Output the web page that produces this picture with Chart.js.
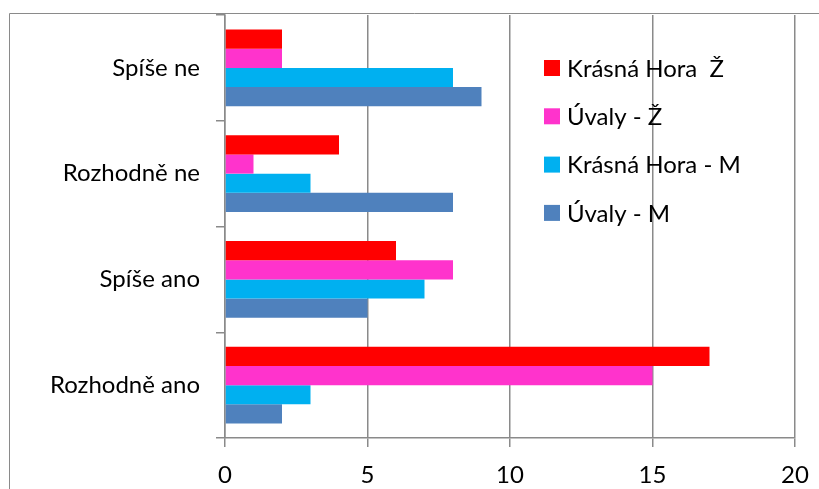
<!DOCTYPE html>
<html><head><meta charset="utf-8">
<script src="https://cdn.jsdelivr.net/npm/chart.js@4/dist/chart.umd.min.js"></script>
<style>html,body{margin:0;padding:0;background:#fff}#wrap{width:819px;height:489px;position:relative}</style>
</head><body><div id="wrap"><canvas id="c" width="819" height="489"></canvas></div>
<script>
const categories = ['Spíše ne', 'Rozhodně ne', 'Spíše ano', 'Rozhodně ano'];
const seriesNames = ['Krásná Hora  Ž', 'Úvaly - Ž', 'Krásná Hora - M', 'Úvaly - M'];
const krasnaHoraZ = [2, 4, 6, 17];
const uvalyZ = [2, 1, 8, 15];
const krasnaHoraM = [8, 3, 7, 3];
const uvalyM = [9, 8, 5, 2];
const xTicks = [0, 5, 10, 15, 20];
const seriesColors = ['#FF0000', '#FF33CC', '#00B0F0', '#4F81BD'];

const seriesValues = [krasnaHoraZ, uvalyZ, krasnaHoraM, uvalyM];
const GRID = '#8a8a8a';
const FONT = 'Lato';

Chart.defaults.font.family = FONT;
Chart.defaults.font.size = 24;
Chart.defaults.color = '#000';

const framePlugin = {
  id: 'frame',
  beforeDraw(chart) {
    const ctx = chart.ctx;
    ctx.save();
    ctx.fillStyle = '#fff';
    ctx.fillRect(0, 0, chart.width, chart.height);
    ctx.restore();
  },
  afterDraw(chart) {
    const ctx = chart.ctx;
    ctx.save();
    ctx.fillStyle = '#fff';
    ctx.fillRect(0, 0, chart.width, 13);
    ctx.strokeStyle = GRID;
    ctx.lineWidth = 1;
    ctx.beginPath();
    ctx.moveTo(9.5, chart.height);
    ctx.lineTo(9.5, 13.5);
    ctx.lineTo(chart.width, 13.5);
    ctx.stroke();
    ctx.restore();
  }
};

const legendPlugin = {
  id: 'innerLegend',
  afterDraw(chart) {
    const ctx = chart.ctx;
    const area = chart.chartArea;
    ctx.save();
    ctx.font = '24px ' + FONT;
    ctx.textBaseline = 'middle';
    ctx.textAlign = 'left';
    chart.data.datasets.forEach((ds, i) => {
      const y = area.top + 53 + i * 48.3;
      ctx.fillStyle = ds.backgroundColor;
      ctx.fillRect(544, y - 8, 16, 16);
      ctx.fillStyle = '#000';
      ctx.fillText(ds.label, 567, y + 1);
    });
    ctx.restore();
  }
};

new Chart(document.getElementById('c'), {
  type: 'bar',
  data: {
    labels: categories,
    datasets: seriesNames.map((name, i) => ({
      label: name,
      data: seriesValues[i],
      backgroundColor: seriesColors[i],
      borderWidth: 0,
      categoryPercentage: 4 / 5.5,
      barPercentage: 1
    }))
  },
  options: {
    indexAxis: 'y',
    responsive: false,
    animation: false,
    devicePixelRatio: 1,
    layout: { padding: { top: 15, right: 24, left: 0, bottom: 0 } },
    plugins: { legend: { display: false }, tooltip: { enabled: false } },
    scales: {
      y: {
        type: 'category',
        afterFit(scale) { scale.width = 225; scale.paddingTop = 0; scale.paddingBottom = 0; },
        grid: { offset: true, drawOnChartArea: false, drawTicks: true, tickLength: 9, color: GRID, lineWidth: 1.5 },
        border: { display: true, color: GRID, width: 1.5 },
        ticks: { padding: 16, color: '#000', font: { size: 24 } }
      },
      x: {
        min: xTicks[0],
        max: xTicks[xTicks.length - 1],
        afterFit(scale) { scale.height = 51; scale.paddingLeft = 0; scale.paddingRight = 0; },
        afterBuildTicks(scale) { scale.ticks = xTicks.map(v => ({ value: v })); },
        grid: { drawTicks: true, tickLength: 9, color: GRID, lineWidth: 1.5 },
        border: { display: true, color: GRID, width: 1.5 },
        ticks: { padding: 14, color: '#000', font: { size: 24 } }
      }
    }
  },
  plugins: [framePlugin, legendPlugin]
});
</script>
</body></html>
